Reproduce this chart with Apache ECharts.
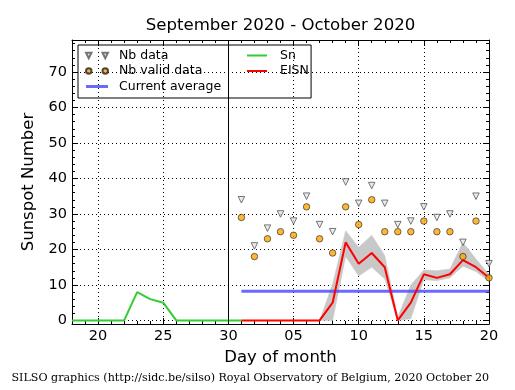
<!DOCTYPE html>
<html>
<head>
<meta charset="utf-8">
<script src="https://cdn.jsdelivr.net/npm/echarts@6/dist/echarts.min.js"></script>
<style>html,body{margin:0;padding:0;background:#fff;}#c{width:515px;height:390px;}</style>
</head>
<body>
<div id="c"></div>
<script>
// ---- data ----
const titleText = 'September 2020 - October 2020';
const footerText = 'SILSO graphics (http://sidc.be/silso) Royal Observatory of Belgium, 2020 October 20';
// x positions are "day counted from Aug 31": Sep d -> d, Oct d -> 30 + d
const snDays   = [18,19,20,21,22,23,24,25,26,27,28,29,30,31];
const snValues = [0, 0, 0, 0, 0, 8, 6, 5, 0, 0, 0, 0, 0, 0];
const octDays  = [1,2,3,4,5,6,7,8,9,10,11,12,13,14,15,16,17,18,19,20];
const eisnValues = [0,0,0,0,0,0,0,5,22,16,19,15,0,5,13,12,13,17,15,12];
const eisnLow    = [0,0,0,0,0,0,0,0,18,12.5,15,11.7,0,0.5,11.5,11.2,12,15.3,13.8,11];
const eisnHigh   = [0,0,0,0,0,0,0,10.3,25.3,20.6,24,18.3,1,10,14.2,14,14.5,22,17.3,13];
const nbData     = [34,21,26,30,28,35,27,25,39,33,38,33,27,28,32,29,30,22,35,16];
const nbValid    = [29,18,23,25,24,32,23,19,32,27,34,25,25,25,28,25,25,18,28,12];
const currentAverage = 8.2;
const monthBoundary = 30;
const xMin = 18, xMax = 50, yMin = -1, yMax = 79;

const FONT = 'DejaVu Sans';
const octX = octDays.map(d => 30 + d);
const pairs = (xs, ys) => xs.map((x, i) => [x, ys[i]]);
const xFmt = v => v <= 30 ? String(v) : String(v - 30).padStart(2, '0');

const chart = echarts.init(document.getElementById('c'), null, {renderer: 'canvas'});

const axisCommon = {
  axisLine: {show: true, onZero: false, lineStyle: {color: '#000', width: 1}},
  axisTick: {show: true, inside: true, length: 6, lineStyle: {color: '#000', width: 1}},
  minorTick: {show: true, splitNumber: 5, length: 3, lineStyle: {color: '#000', width: 1}}
};

// band polygon: lower edge forward, upper edge backward, all through api.coord
function renderBand(params, api) {
  if (params.dataIndex !== 0) return null;
  const pts = [];
  for (let i = 0; i < octX.length; i++) pts.push(api.coord([octX[i], eisnLow[i]]));
  for (let i = octX.length - 1; i >= 0; i--) pts.push(api.coord([octX[i], eisnHigh[i]]));
  return {
    type: 'polygon',
    shape: {points: pts},
    style: {fill: '#c8c8c8', stroke: '#c8c8c8', lineWidth: 0.5}
  };
}

const option = {
  animation: false,
  backgroundColor: '#fff',
  grid: {left: 72, right: 26, top: 40, bottom: 66, containLabel: false},
  graphic: [
    {type: 'text', x: 280.5, y: 26, style: {text: titleText, font: '16.6px "DejaVu Sans"', fill: '#000', align: 'center', verticalAlign: 'middle'}},
    {type: 'text', x: 11.5, y: 378, style: {text: footerText, font: '11.1px "DejaVu Serif"', fill: '#000', align: 'left', verticalAlign: 'middle'}}
  ],
  legend: [
    {
      left: 78, top: 45, orient: 'vertical',
      padding: [4, 90, 5, 7], itemGap: 2.5,
      itemWidth: 22, itemHeight: 8,
      borderColor: '#000', borderWidth: 1, borderRadius: 0,
      textStyle: {fontFamily: FONT, fontSize: 12.5, color: '#000', padding: [0, 0, 0, 6]},
      data: [
        {name: 'Nb data', icon: 'path://M0,0L6,0L3,6Z M18,0L24,0L21,6Z'},
        {name: 'Nb valid data', icon: 'path://M0,3a3,3 0 1,0 6,0a3,3 0 1,0 -6,0Z M18,3a3,3 0 1,0 6,0a3,3 0 1,0 -6,0Z'},
        {name: 'Current average', icon: 'path://M0,0H22V3H0Z', itemStyle: {color: 'rgba(80,80,255,0.85)', borderWidth: 0}}
      ],
      selectedMode: false
    },
    {
      left: 247, top: 49, orient: 'vertical',
      padding: 0, itemGap: 2.5,
      itemWidth: 20, itemHeight: 8,
      textStyle: {fontFamily: FONT, fontSize: 12.5, color: '#000', padding: [0, 0, 0, 8]},
      data: [
        {name: 'Sn', icon: 'path://M0,0H20V2H0Z', itemStyle: {color: '#32cd32', borderWidth: 0}},
        {name: 'EISN', icon: 'path://M0,0H20V2H0Z', itemStyle: {color: '#ff0000', borderWidth: 0}}
      ],
      selectedMode: false
    }
  ],
  xAxis: [
    Object.assign({
      type: 'value', min: xMin, max: xMax, splitNumber: 6, position: 'bottom',
      name: 'Day of month', nameLocation: 'middle', nameGap: 23,
      nameTextStyle: {fontFamily: FONT, fontSize: 16.5, color: '#000'},
      axisLabel: {show: true, margin: 5, fontFamily: FONT, fontSize: 14.5, color: '#000', formatter: xFmt, showMinLabel: false},
      splitLine: {show: true, lineStyle: {color: '#000', width: 1, type: [1, 3]}}
    }, axisCommon),
    Object.assign({
      type: 'value', min: xMin, max: xMax, splitNumber: 6, position: 'top',
      axisLabel: {show: false}, splitLine: {show: false}
    }, axisCommon)
  ],
  yAxis: [
    Object.assign({
      type: 'value', min: yMin, max: yMax, splitNumber: 8, position: 'left',
      name: 'Sunspot Number', nameLocation: 'middle', nameGap: 32,
      nameTextStyle: {fontFamily: FONT, fontSize: 16.5, color: '#000'},
      axisLabel: {show: true, margin: 5, fontFamily: FONT, fontSize: 14.5, color: '#000', showMinLabel: false, showMaxLabel: false},
      splitLine: {show: true, lineStyle: {color: '#000', width: 1, type: [1, 3]}}
    }, axisCommon),
    Object.assign({
      type: 'value', min: yMin, max: yMax, splitNumber: 8, position: 'right',
      axisLabel: {show: false}, splitLine: {show: false}
    }, axisCommon)
  ],
  series: [
    {
      name: 'band', type: 'custom', silent: true, renderItem: renderBand,
      data: pairs(octX, eisnHigh), encode: {x: 0, y: 1}, clip: true, z: 1
    },
    {
      name: 'Sn', type: 'line', symbol: 'none', data: pairs(snDays, snValues),
      color: '#32cd32', lineStyle: {color: '#32cd32', width: 2}, z: 3,
      markLine: {
        silent: true, symbol: ['none', 'none'], label: {show: false},
        lineStyle: {color: '#000', width: 1, type: 'solid'},
        data: [{xAxis: monthBoundary}]
      }
    },
    {
      name: 'Current average', type: 'line', symbol: 'none',
      data: [[octX[0], currentAverage], [octX[octX.length - 1], currentAverage]],
      color: 'rgba(80,80,255,0.85)', lineStyle: {color: 'rgba(80,80,255,0.85)', width: 3}, z: 4
    },
    {
      name: 'EISN', type: 'line', symbol: 'none', data: pairs(octX, eisnValues),
      color: '#ff0000', lineStyle: {color: '#ff0000', width: 2}, z: 5
    },
    {
      name: 'Nb data', type: 'scatter', symbol: 'triangle', symbolRotate: 180, symbolSize: 6.5,
      data: pairs(octX, nbData),
      itemStyle: {color: '#e6e6e6', borderColor: '#555', borderWidth: 1}, z: 6
    },
    {
      name: 'Nb valid data', type: 'scatter', symbol: 'circle', symbolSize: 6.5,
      data: pairs(octX, nbValid),
      itemStyle: {color: '#ffa500', borderColor: '#222', borderWidth: 0.8}, z: 7
    }
  ]
};
chart.setOption(option);
</script>
</body>
</html>
